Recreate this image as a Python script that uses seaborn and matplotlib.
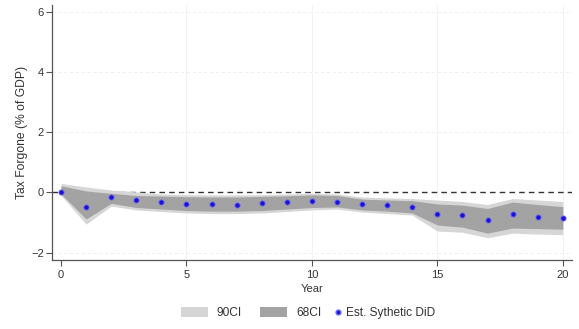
import numpy as np
import pandas as pd
import matplotlib
matplotlib.use("Agg")
import matplotlib.pyplot as plt
import seaborn as sns
from matplotlib.patches import Patch
from matplotlib.lines import Line2D

years = list(range(0, 21))
est   = [0.0, -0.47, -0.15, -0.25, -0.31, -0.39, -0.39, -0.41, -0.36, -0.32, -0.28,
         -0.30, -0.39, -0.41, -0.48, -0.73, -0.76, -0.90, -0.72, -0.80, -0.86]
lo68  = [-0.05, -0.88, -0.36, -0.50, -0.55, -0.60, -0.62, -0.62, -0.60, -0.55, -0.50,
         -0.48, -0.58, -0.62, -0.68, -1.08, -1.15, -1.35, -1.18, -1.20, -1.22]
hi68  = [0.22, 0.05, -0.03, -0.10, -0.12, -0.14, -0.15, -0.15, -0.13, -0.11, -0.08,
         -0.10, -0.22, -0.25, -0.27, -0.38, -0.42, -0.53, -0.32, -0.40, -0.47]
lo90  = [-0.10, -1.05, -0.45, -0.58, -0.63, -0.68, -0.70, -0.70, -0.68, -0.63, -0.58,
         -0.55, -0.65, -0.70, -0.75, -1.28, -1.32, -1.50, -1.35, -1.38, -1.40]
hi90  = [0.30, 0.18, 0.08, 0.02, -0.05, -0.07, -0.08, -0.08, -0.07, -0.05, -0.03,
         -0.05, -0.15, -0.18, -0.20, -0.25, -0.30, -0.40, -0.20, -0.25, -0.30]
xticks = [0, 5, 10, 15, 20]
yticks = [-2, 0, 2, 4, 6]
legend_labels = ["90CI", "68CI", "Est. Sythetic DiD"]

df = pd.DataFrame({"Year": years, "est": est, "lo68": lo68, "hi68": hi68,
                   "lo90": lo90, "hi90": hi90})

sns.set_style("white")
plt.rcParams["font.family"] = ["Liberation Sans", "DejaVu Sans"]

fig = plt.figure(figsize=(5.79, 3.29), dpi=100)
ax = fig.add_axes([0.0903, 0.2097, 0.8977, 0.7753])

light = "#d6d6d6"
dark = "#a3a3a3"
pt = "#1a10d8"

ax.axhline(0, color="#333333", lw=1.0, ls=(0, (4, 3)), zorder=1)
ax.fill_between(df["Year"], df["lo90"], df["hi90"], color=light, lw=0, zorder=2)
ax.fill_between(df["Year"], df["lo68"], df["hi68"], color=dark, lw=0, zorder=3)
sns.scatterplot(data=df, x="Year", y="est", ax=ax, color=pt, s=14,
                edgecolor="#6a6af0", linewidth=0.6, zorder=4, legend=False)

ax.set_xlim(-0.35, 20.37)
ax.set_ylim(-2.24, 6.22)
ax.set_xticks(xticks)
ax.set_yticks(yticks)
for v in [2, 4, 6, -2]:
    ax.axhline(v, color="#ececec", lw=0.6, ls=(0, (4, 3)), zorder=0)
for v in [5, 10, 15, 20]:
    ax.axvline(v, color="#f0f0f0", lw=0.6, zorder=0)

for s in ["top", "right"]:
    ax.spines[s].set_visible(False)
for s in ["left", "bottom"]:
    ax.spines[s].set_color("#555555")
    ax.spines[s].set_linewidth(0.9)
ax.tick_params(axis="both", which="both", direction="out", length=4, width=0.8,
               color="#555555", labelsize=8, labelcolor="#333333",
               left=True, bottom=True)
ax.tick_params(axis="x", pad=3.5)
ax.tick_params(axis="y", pad=2)
ax.set_xlabel("Year", fontsize=8, color="#333333", labelpad=2.5)
ax.set_ylabel("Tax Forgone (% of GDP)", fontsize=8.7, color="#333333", labelpad=2)

ly = 0.048
fs = 8.6
h_patch = [Patch(facecolor=light, edgecolor="none"),
           Patch(facecolor=dark, edgecolor="none")]
leg1 = fig.legend(h_patch, legend_labels[:2], loc="center left",
                  bbox_to_anchor=(181 / 579, ly), ncol=2, frameon=False, fontsize=fs,
                  handlelength=2.26, handleheight=0.9, columnspacing=1.55,
                  handletextpad=0.72, borderpad=0, borderaxespad=0,
                  labelcolor="#333333")
h_pt = [Line2D([], [], marker="o", color="none", markerfacecolor=pt,
               markeredgecolor="#6a6af0", markersize=3.5)]
leg2 = fig.legend(h_pt, legend_labels[2:], loc="center left",
                  bbox_to_anchor=(334.5 / 579, ly), frameon=False, fontsize=fs,
                  handlelength=0.6, handletextpad=0.35, borderpad=0,
                  borderaxespad=0, labelcolor="#333333")

fig.savefig("out.png", dpi=100)
